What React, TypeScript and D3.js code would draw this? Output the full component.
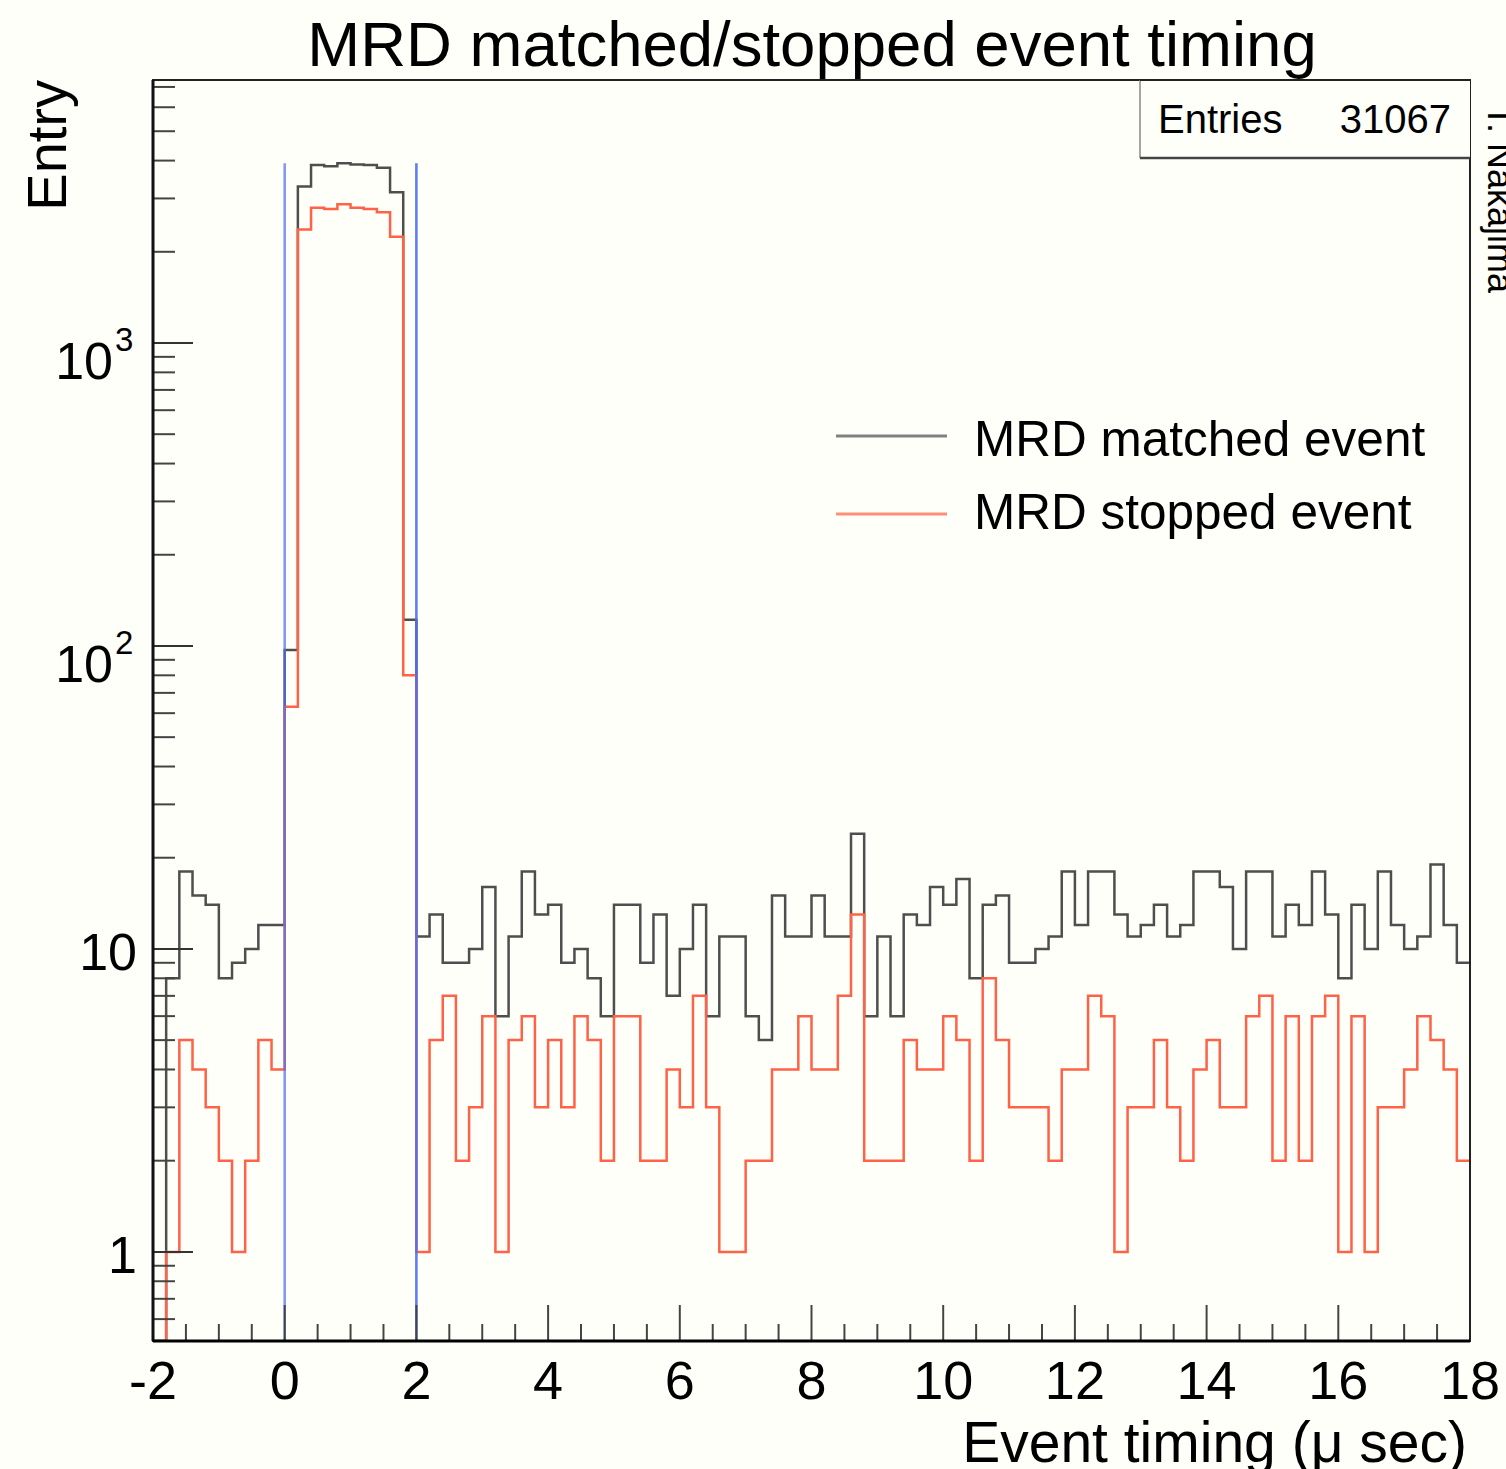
import React from "react";
import * as d3 from "d3";

// ---- data (100 bins of 0.2 µs from -2 to 18) ----
const binEdges0 = -2;
const binWidth = 0.2;
const matchedCounts = [
  0, 8, 18, 15, 14, 8, 9, 10, 12, 12,
  97, 3283, 3866, 3830, 3918, 3880, 3866, 3785, 3145, 122,
  11, 13, 9, 9, 10, 16, 6, 11, 18, 13, 14, 9, 10, 8,
  6, 14, 14, 9, 13, 7, 10, 14, 6, 11, 11, 6, 5, 15, 11, 11, 15,
  11, 11, 24, 6, 11, 6, 13, 12, 16, 14, 17, 8, 14, 15, 9, 9, 10,
  11, 18, 12, 18, 18, 13, 11, 12, 14, 11, 12, 18, 18, 16, 10, 18,
  18, 11, 14, 12, 18, 13, 8, 14, 10, 18, 12, 10, 11, 19, 12, 9,
];
const stoppedCounts = [
  0, 1, 5, 4, 3, 2, 1, 2, 5, 4,
  63, 2371, 2793, 2770, 2871, 2793, 2770, 2700, 2244, 80,
  1, 5, 7, 2, 3, 6, 1, 5, 6, 3, 5, 3, 6, 5,
  2, 6, 6, 2, 2, 4, 3, 7, 3, 1, 1, 2, 2, 4, 4, 6, 4,
  4, 7, 13, 2, 2, 2, 5, 4, 4, 6, 5, 2, 8, 5, 3, 3, 3,
  2, 4, 4, 7, 6, 1, 3, 3, 5, 3, 2, 4, 5, 3, 3, 6,
  7, 2, 6, 2, 6, 7, 1, 6, 1, 3, 3, 4, 6, 5, 4, 2,
];
const cutLines = [0, 2];
const xTickLabels = [-2, 0, 2, 4, 6, 8, 10, 12, 14, 16, 18];
const yDecades = [1, 10, 100, 1000];
const legendItems = ["MRD matched event", "MRD stopped event"];
const entries = 31067;

const W = 1506;
const H = 1469;
const FONT = "'Liberation Sans', Arial, Helvetica, sans-serif";
const GREY = "#4e4e4e";
const RED = "#ff6246";
const BLUE = "#4f6ff2";
const BG = "#fffffa";

export default function App() {
  const left = 153, right = 1470, top = 80, bottom = 1341;
  const x = d3.scaleLinear().domain([-2, 18]).range([left, right]);
  const yMin = 0.508, yMax = 7380;
  const y = d3.scaleLog().domain([yMin, yMax]).range([bottom, top]);

  const stepPath = (counts: number[]) => {
    const pts: [number, number][] = counts.map((c, i) => [binEdges0 + i * binWidth, c]);
    pts.push([binEdges0 + counts.length * binWidth, counts[counts.length - 1]]);
    const line = d3
      .line<[number, number]>()
      .x((d) => x(d[0]))
      .y((d) => y(Math.max(d[1], yMin)))
      .curve(d3.curveStepAfter);
    return line(pts) || "";
  };

  // y ticks
  const yMinor: number[] = [];
  for (let e = -1; e <= 3; e++) {
    for (let k = 2; k <= 9; k++) {
      const v = k * Math.pow(10, e);
      if (v >= yMin && v <= yMax) yMinor.push(v);
    }
  }
  // x ticks
  const xMinor: number[] = d3.range(-2, 18.001, 0.5);

  const maxMatched = d3.max(matchedCounts) as number;

  return (
    <svg
      width={W}
      height={H}
      style={{ position: "absolute", left: 0, top: 0, background: BG }}
      fontFamily={FONT}
    >
      <rect x={0} y={0} width={W} height={H} fill={BG} />
      <defs>
        <clipPath id="frameClip">
          <rect x={left} y={top} width={right - left} height={bottom - top} />
        </clipPath>
      </defs>

      {/* title */}
      <text x={812} y={66} fontSize={63.5} textAnchor="middle" fill="#000">
        MRD matched/stopped event timing
      </text>

      {/* histograms */}
      <g clipPath="url(#frameClip)">
        <path d={stepPath(matchedCounts)} fill="none" stroke={GREY} strokeWidth={2.5} />
        <path d={stepPath(stoppedCounts)} fill="none" stroke={RED} strokeWidth={2.5} />
        {cutLines.map((c, i) => (
          <line
            key={c}
            x1={x(c)}
            x2={x(c)}
            y1={y(yMin)}
            y2={y(maxMatched)}
            stroke={BLUE}
            strokeWidth={2.6}
            opacity={i === 0 ? 0.7 : 0.9}
          />
        ))}
      </g>

      {/* y ticks */}
      {yDecades.map((v) => (
        <line key={"yM" + v} x1={left} x2={left + 40} y1={y(v)} y2={y(v)} stroke="#333" strokeWidth={2} />
      ))}
      {yMinor.map((v) => (
        <line key={"ym" + v} x1={left} x2={left + 22} y1={y(v)} y2={y(v)} stroke="#444" strokeWidth={2} />
      ))}

      {/* x ticks */}
      {xMinor.map((v) => {
        const major = Math.abs(v / 2 - Math.round(v / 2)) < 1e-6;
        return (
          <line
            key={"x" + v}
            x1={x(v)}
            x2={x(v)}
            y1={bottom}
            y2={bottom - (major ? 36 : 17)}
            stroke="#444"
            strokeWidth={2}
          />
        );
      })}

      {/* frame */}
      <rect x={left} y={top} width={right - left} height={bottom - top} fill="none" stroke="#222" strokeWidth={2} />
      <line x1={left} x2={left} y1={top} y2={bottom} stroke="#111" strokeWidth={3} />
      <line x1={left} x2={right} y1={bottom} y2={bottom} stroke="#000" strokeWidth={3} />

      {/* y labels */}
      {yDecades.map((v) => {
        const e = Math.round(Math.log10(v));
        if (e <= 1) {
          return (
            <text key={"yl" + v} x={137} y={y(v) + 21} fontSize={52} textAnchor="end" fill="#000">
              {String(v)}
            </text>
          );
        }
        return (
          <g key={"yl" + v}>
            <text x={113} y={y(v) + 36} fontSize={52} textAnchor="end" fill="#000">
              10
            </text>
            <text x={115} y={y(v) + 8} fontSize={33} textAnchor="start" fill="#000">
              {String(e)}
            </text>
          </g>
        );
      })}

      {/* x labels */}
      {xTickLabels.map((v) => (
        <text key={"xl" + v} x={x(v)} y={1399} fontSize={54} textAnchor="middle" fill="#000">
          {String(v)}
        </text>
      ))}

      {/* axis titles */}
      <text x={1467} y={1462} fontSize={57} textAnchor="end" fill="#000">
        Event timing (μ sec)
      </text>
      <text transform="translate(66,80) rotate(-90)" fontSize={56} textAnchor="end" fill="#000">
        Entry
      </text>

      {/* stats box */}
      <rect x={1140} y={top} width={right - 1140} height={78} fill={BG} stroke="none" />
      <line x1={1140} x2={1140} y1={top} y2={top + 78} stroke="#888" strokeWidth={1.5} />
      <line x1={1140} x2={right} y1={top + 78} y2={top + 78} stroke="#444" strokeWidth={2.5} />
      <line x1={1140} x2={right} y1={top} y2={top} stroke="#222" strokeWidth={2} />
      <text x={1158} y={133} fontSize={40} fill="#000">
        Entries
      </text>
      <text x={1451} y={133} fontSize={40} textAnchor="end" fill="#000">
        {String(entries)}
      </text>

      {/* legend */}
      {legendItems.map((label, i) => (
        <g key={label}>
          <line
            x1={836}
            x2={947}
            y1={436 + i * 78}
            y2={436 + i * 78}
            stroke={i === 0 ? "#808080" : "#ff8f78"}
            strokeWidth={3}
          />
          <text x={974} y={456 + i * 73} fontSize={49.5} fill="#000">
            {label}
          </text>
        </g>
      ))}

      {/* author tag */}
      <text transform="translate(1488,105) rotate(90)" fontSize={36} fill="#000">
        T. Nakajima
      </text>
    </svg>
  );
}
